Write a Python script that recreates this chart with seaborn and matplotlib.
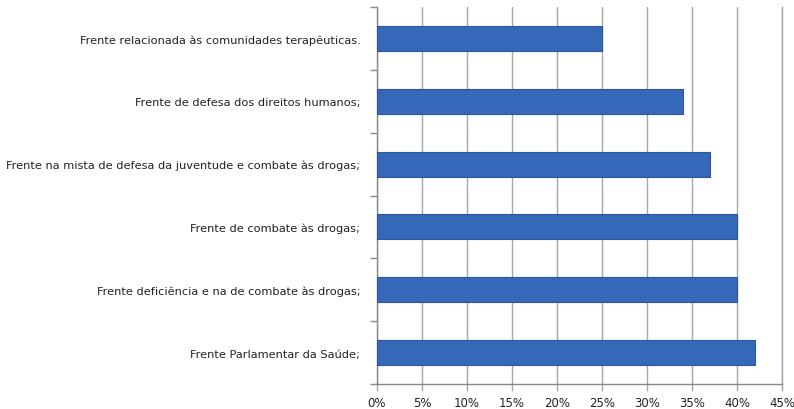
import matplotlib
matplotlib.use("Agg")
import matplotlib.pyplot as plt
import seaborn as sns
import numpy as np
import pandas as pd
from matplotlib.ticker import FixedLocator, FuncFormatter

categories = [
    "Frente relacionada às comunidades terapêuticas.",
    "Frente de defesa dos direitos humanos;",
    "Frente na mista de defesa da juventude e combate às drogas;",
    "Frente de combate às drogas;",
    "Frente deficiência e na de combate às drogas;",
    "Frente Parlamentar da Saúde;",
]
values = [25, 34, 37, 40, 40, 42]
xticks = [0, 5, 10, 15, 20, 25, 30, 35, 40, 45]

df = pd.DataFrame({"cat": categories, "val": values})

sns.set_style("white")
plt.rcParams["font.family"] = ["DejaVu Sans"]

fig = plt.figure(figsize=(7.94, 4.10), dpi=100)
ax = fig.add_axes([377/794, 1-385/410, (782-377)/794, (385-8)/410])

sns.barplot(data=df, y="cat", x="val", order=categories, orient="h",
            color="#3568b8", saturation=1, edgecolor="#2b579c", linewidth=0.8,
            width=0.4, ax=ax, zorder=3)

ax.set_xlim(0, 45)
ax.set_ylim(len(categories)-0.5, -0.5)
ax.set_xticks(xticks)
ax.xaxis.set_major_formatter(FuncFormatter(lambda v, p: f"{int(v)}%"))
ax.grid(axis="x", color="#a6a6a6", linewidth=1.0, zorder=0)
ax.set_axisbelow(True)

ax.yaxis.set_minor_locator(FixedLocator(np.arange(-0.5, len(categories), 1.0)))
ax.tick_params(axis="y", which="major", left=True, length=0, pad=12,
               labelsize=8.2, labelcolor="#222222")
ax.tick_params(axis="y", which="minor", left=True, length=5, color="#888888", width=1)
ax.tick_params(axis="x", which="major", bottom=True, length=5, color="#a6a6a6", width=1,
               labelsize=8.5, labelcolor="#222222", pad=4)

ax.spines["top"].set_visible(False)
ax.spines["right"].set_color("#a6a6a6")
ax.spines["right"].set_linewidth(1)
for s in ["left", "bottom"]:
    ax.spines[s].set_color("#888888")
    ax.spines[s].set_linewidth(1)

ax.set_xlabel("")
ax.set_ylabel("")

fig.savefig("out.png", dpi=100)
